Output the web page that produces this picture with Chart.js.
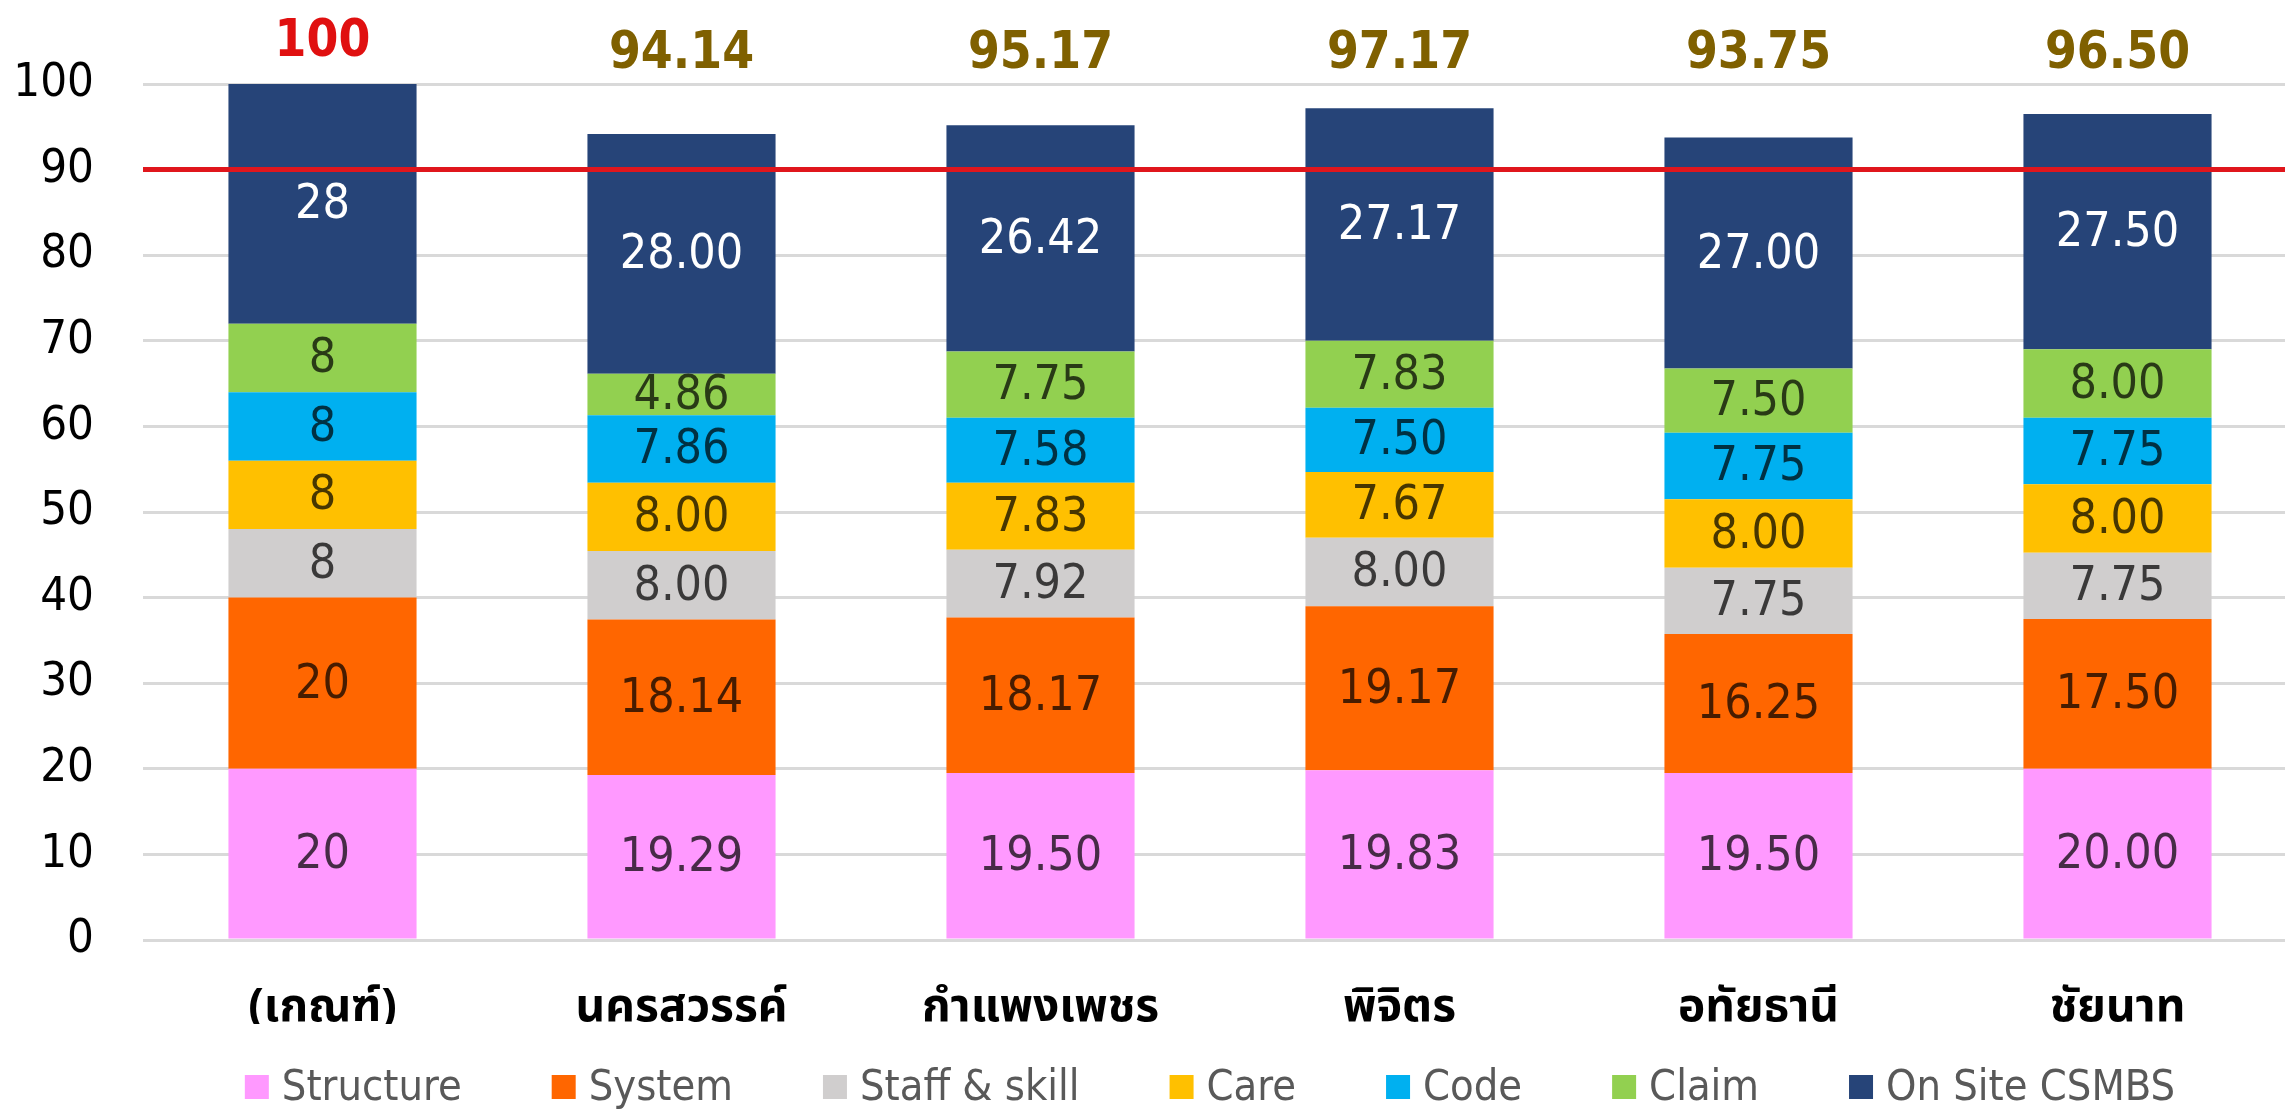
<!DOCTYPE html>
<html>
<head>
<meta charset="utf-8">
<script src="https://cdn.jsdelivr.net/npm/chart.js@4.4.0/dist/chart.umd.min.js"></script>
<style>
  html, body { margin: 0; padding: 0; background: #fff; overflow: hidden; }
  #wrap { width: 2300px; height: 1109px; }
</style>
</head>
<body>
<div id="wrap"><canvas id="chart"></canvas></div>
<script>
const categories = ['(เกณฑ์)', 'นครสวรรค์', 'กำแพงเพชร', 'พิจิตร', 'อุทัยธานี', 'ชัยนาท'];
const structure = [20, 19.29, 19.50, 19.83, 19.50, 20.00];
const system = [20, 18.14, 18.17, 19.17, 16.25, 17.50];
const staffSkill = [8, 8.00, 7.92, 8.00, 7.75, 7.75];
const care = [8, 8.00, 7.83, 7.67, 8.00, 8.00];
const code = [8, 7.86, 7.58, 7.50, 7.75, 7.75];
const claim = [8, 4.86, 7.75, 7.83, 7.50, 8.00];
const onSite = [28, 28.00, 26.42, 27.17, 27.00, 27.50];
const totals = [100, 94.14, 95.17, 97.17, 93.75, 96.50];
const decimals = [0, 2, 2, 2, 2, 2];
const yTicks = [0, 10, 20, 30, 40, 50, 60, 70, 80, 90, 100];
const target = 90;

const NUM_FONT = '"DejaVu Sans Condensed", "DejaVu Sans", sans-serif';
const THAI_FONT = '"Noto Sans Thai", Tahoma, "DejaVu Sans", sans-serif';

const series = [
  { label: 'Structure', data: structure, color: '#ff99ff', text: 'rgba(0,0,0,0.72)' },
  { label: 'System', data: system, color: '#ff6600', text: 'rgba(0,0,0,0.72)' },
  { label: 'Staff & skill', data: staffSkill, color: '#d0cece', text: 'rgba(0,0,0,0.72)' },
  { label: 'Care', data: care, color: '#ffc000', text: 'rgba(0,0,0,0.72)' },
  { label: 'Code', data: code, color: '#00b0f0', text: 'rgba(0,0,0,0.72)' },
  { label: 'Claim', data: claim, color: '#92d050', text: 'rgba(0,0,0,0.72)' },
  { label: 'On Site CSMBS', data: onSite, color: '#264478', text: '#ffffff' }
];

// red target line across the plot
const targetLine = {
  id: 'targetLine',
  afterDatasetsDraw(chart) {
    const { ctx, chartArea, scales } = chart;
    const y = scales.y.getPixelForValue(target);
    ctx.save();
    ctx.strokeStyle = '#e0161c';
    ctx.lineWidth = 5;
    ctx.beginPath();
    ctx.moveTo(chartArea.left, y);
    ctx.lineTo(chart.width, y);
    ctx.stroke();
    ctx.restore();
  }
};

// values in the middle of each segment + totals on top
const barLabels = {
  id: 'barLabels',
  afterDraw(chart) {
    const { ctx, chartArea } = chart;
    ctx.save();
    ctx.textAlign = 'center';
    ctx.textBaseline = 'middle';
    ctx.font = `48px ${NUM_FONT}`;
    chart.data.datasets.forEach((ds, di) => {
      chart.getDatasetMeta(di).data.forEach((bar, i) => {
        ctx.fillStyle = series[di].text;
        ctx.fillText(ds.data[i].toFixed(decimals[i]), bar.x, (bar.y + bar.base) / 2 + 2);
      });
    });
    const meta = chart.getDatasetMeta(0);
    ctx.font = `bold 51px ${NUM_FONT}`;
    totals.forEach((t, i) => {
      ctx.fillStyle = i === 0 ? '#e01010' : '#7f6000';
      ctx.fillText(t.toFixed(decimals[i]), meta.data[i].x, chartArea.top - (i === 0 ? 41 : 29));
    });
    ctx.restore();
  }
};

// legend row under the axis
const bottomLegend = {
  id: 'bottomLegend',
  afterDraw(chart) {
    const { ctx, chartArea } = chart;
    const box = 24, gapText = 13, gapItem = 90;
    ctx.save();
    ctx.font = `43px ${NUM_FONT}`;
    ctx.textBaseline = 'middle';
    ctx.textAlign = 'left';
    const widths = series.map(s => box + gapText + ctx.measureText(s.label).width);
    const total = widths.reduce((a, b) => a + b, 0) + gapItem * (series.length - 1);
    let x = (chartArea.left + chartArea.right) / 2 - 10 - total / 2;
    const y = 1087;
    series.forEach((s, i) => {
      ctx.fillStyle = s.color;
      ctx.fillRect(x, y - box / 2, box, box);
      ctx.fillStyle = '#595959';
      ctx.fillText(s.label, x + box + gapText, y + 2);
      x += widths[i] + gapItem;
    });
    ctx.restore();
  }
};

new Chart(document.getElementById('chart'), {
  type: 'bar',
  data: {
    labels: categories,
    datasets: series.map(s => ({
      label: s.label,
      data: s.data,
      backgroundColor: s.color,
      borderWidth: 0,
      categoryPercentage: 1,
      barPercentage: 0.524
    }))
  },
  options: {
    responsive: true,
    maintainAspectRatio: false,
    animation: false,
    layout: { padding: { top: 84, left: 15, right: 3, bottom: 85 } },
    plugins: {
      legend: { display: false },
      tooltip: { enabled: false }
    },
    scales: {
      x: {
        stacked: true,
        grid: { display: false },
        border: { display: false },
        ticks: { color: '#000', padding: 36, maxRotation: 0, font: { family: THAI_FONT, size: 46, weight: 'bold' } },
        afterFit: axis => { axis.height = 84; axis.paddingLeft = 0; axis.paddingRight = 0; }
      },
      y: {
        stacked: true,
        min: 0,
        max: 100,
        afterBuildTicks: axis => { axis.ticks = yTicks.map(v => ({ value: v })); },
        grid: { color: '#d9d9d9', lineWidth: 3, drawTicks: false },
        border: { display: false },
        ticks: { color: '#000', padding: 49, font: { family: NUM_FONT, size: 47 } },
        afterFit: axis => { axis.width = 128; axis.paddingTop = 0; axis.paddingBottom = 0; }
      }
    }
  },
  plugins: [targetLine, barLabels, bottomLegend]
});
</script>
</body>
</html>
